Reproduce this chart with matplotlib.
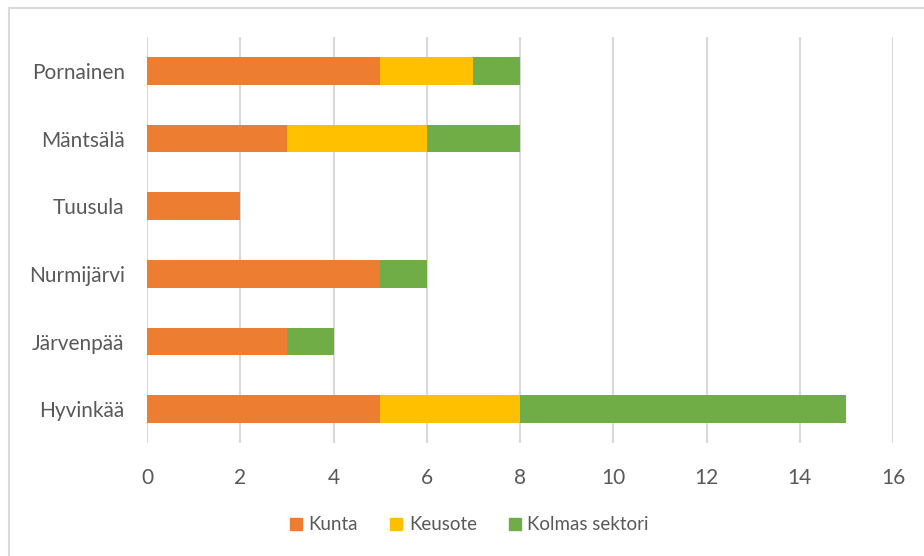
import numpy as np
import matplotlib.pyplot as plt
from matplotlib.lines import Line2D

plt.rcParams['font.family'] = ['Lato', 'DejaVu Sans']

# data (bottom to top)
municipalities = ["Hyvinkää", "Järvenpää", "Nurmijärvi", "Tuusula", "Mäntsälä", "Pornainen"]
kunta = [5, 3, 5, 2, 3, 5]
keusote = [3, 0, 0, 0, 3, 2]
kolmas = [7, 1, 1, 0, 2, 1]
series_names = ["Kunta", "Keusote", "Kolmas sektori"]
colors = ["#ED7D31", "#FFC000", "#70AD47"]
xticks = [0, 2, 4, 6, 8, 10, 12, 14, 16]

text_col = "#595959"
grid_col = "#D9D9D9"

fig = plt.figure(figsize=(9.24, 5.56), dpi=100)
ax = fig.add_axes([147 / 924, 1 - 443 / 556, (893 - 147) / 924, (443 - 37) / 556])

y = np.arange(len(municipalities))
left = np.zeros(len(municipalities))
for vals, name, col in zip([kunta, keusote, kolmas], series_names, colors):
    ax.barh(y, vals, left=left, height=0.41, color=col, label=name, zorder=3)
    left += np.array(vals)

ax.set_xlim(0, 16)
ax.set_ylim(-0.5, len(municipalities) - 0.5)
ax.set_xticks(xticks)
ax.set_yticks(y)
ax.set_yticklabels(municipalities)
ax.xaxis.grid(True, color=grid_col, linewidth=1.5, zorder=0)
ax.tick_params(axis='both', length=0, labelsize=15, colors=text_col)
ax.tick_params(axis='x', pad=18)
ax.tick_params(axis='y', pad=16)
for s in ax.spines.values():
    s.set_visible(False)

handles = [plt.Rectangle((0, 0), 1, 1, color=c) for c in colors]
fig.legend(handles, series_names, loc='center', bbox_to_anchor=(0.508, 1 - 525 / 556),
           ncol=3, frameon=False, fontsize=13.5, handlelength=0.65, handleheight=0.65,
           handletextpad=0.35, columnspacing=1.7, labelcolor=text_col)

# chart border (left and top edges visible)
fig.add_artist(Line2D([9 / 924, 9 / 924], [0, 1 - 8 / 556], color=grid_col, linewidth=1.5,
                      transform=fig.transFigure))
fig.add_artist(Line2D([9 / 924, 1], [1 - 8 / 556, 1 - 8 / 556], color=grid_col, linewidth=1.5,
                      transform=fig.transFigure))

fig.savefig("out.png", dpi=100)
